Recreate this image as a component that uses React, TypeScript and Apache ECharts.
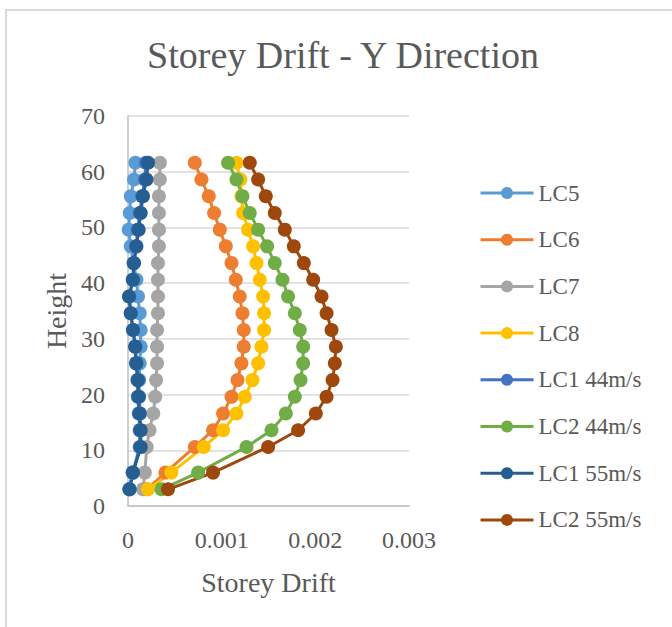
import React, { useEffect, useRef } from "react";
import * as echarts from "echarts";

const heights = [61.6, 58.6, 55.6, 52.6, 49.6, 46.6, 43.6, 40.6, 37.6, 34.6, 31.6, 28.6, 25.6, 22.6, 19.6, 16.6, 13.6, 10.6, 6, 3];

const lc5 = [0.000079, 0.000064, 0.000029, 0.000018, 0.000007, 0.000029, 0.00006, 0.00009, 0.000107, 0.000125, 0.000135, 0.000135, 0.000125, 0.00012, 0.00012, 0.00013, 0.000135, 0.000135, 0.00005, 0.000015];
const lc6 = [0.000713, 0.000784, 0.000862, 0.000919, 0.00098, 0.001044, 0.001105, 0.001151, 0.001193, 0.001222, 0.001236, 0.001236, 0.001211, 0.001169, 0.001105, 0.001015, 0.000908, 0.000713, 0.0004, 0.0002];
const lc7 = [0.00034, 0.00034, 0.00033, 0.00033, 0.00033, 0.00033, 0.00032, 0.00032, 0.00032, 0.00032, 0.00031, 0.00031, 0.00031, 0.0003, 0.00029, 0.00027, 0.00023, 0.0002, 0.00018, 0.00016];
const lc8 = [0.001158, 0.0012, 0.001211, 0.001229, 0.001282, 0.001336, 0.001372, 0.001407, 0.001443, 0.001453, 0.001453, 0.001425, 0.001389, 0.001329, 0.001247, 0.001158, 0.001015, 0.000809, 0.000463, 0.000214];
const lc1_44 = [0.00019, 0.00018, 0.00015, 0.000125, 0.000105, 0.000085, 0.00006, 0.00005, 0.000015, 0.00003, 0.000055, 0.000075, 0.000085, 0.0001, 0.000105, 0.000115, 0.000125, 0.000125, 0.00005, 0.000015];
const lc2_44 = [0.001068, 0.001158, 0.001222, 0.0013, 0.001389, 0.001485, 0.001567, 0.001649, 0.001709, 0.001781, 0.001834, 0.00187, 0.00187, 0.001842, 0.001781, 0.001685, 0.001532, 0.001265, 0.000748, 0.000357];
const lc1_55 = [0.000214, 0.000197, 0.00016, 0.000136, 0.000114, 0.00009, 0.000064, 0.000053, 0.00001, 0.000029, 0.000053, 0.000079, 0.00009, 0.000107, 0.000114, 0.000125, 0.000136, 0.000136, 0.000053, 0.000018];
const lc2_55 = [0.0013, 0.001389, 0.001471, 0.001567, 0.001674, 0.00177, 0.001877, 0.001977, 0.002066, 0.00212, 0.002173, 0.002219, 0.002208, 0.002184, 0.00212, 0.002005, 0.001816, 0.001496, 0.000908, 0.000427];

const seriesNames = ["LC5", "LC6", "LC7", "LC8", "LC1 44m/s", "LC2 44m/s", "LC1 55m/s", "LC2 55m/s"];
const seriesValues = [lc5, lc6, lc7, lc8, lc1_44, lc2_44, lc1_55, lc2_55];
const seriesColors = ["#5B9BD5", "#ED7D31", "#A5A5A5", "#FFC000", "#4472C4", "#70AD47", "#255E91", "#9E480E"];

const title = "Storey Drift - Y Direction";
const xName = "Storey Drift";
const yName = "Height";

const FONT = "'Liberation Serif', serif";
const TXT = "#595959";

export default function App() {
  const ref = useRef<HTMLDivElement>(null);
  useEffect(() => {
    if (!ref.current) return;
    const chart = echarts.init(ref.current, undefined, { renderer: "svg" });
    chart.setOption({
      animation: false,
      backgroundColor: "#ffffff",
      title: {
        text: title,
        left: 343,
        top: 36,
        padding: 0,
        textAlign: "center",
        textStyle: { fontFamily: FONT, fontSize: 38, fontWeight: "normal", color: TXT },
      },
      graphic: [
        {
          type: "rect",
          shape: { x: 6, y: 10, width: 800, height: 800 },
          style: { fill: "none", stroke: "#d9d9d9", lineWidth: 2 },
          silent: true,
        },
      ],
      legend: {
        orient: "vertical",
        left: 479,
        top: 181,
        padding: 0,
        itemWidth: 53,
        itemHeight: 15,
        itemGap: 22.7,
        lineStyle: { width: 3 },
        textStyle: { fontFamily: FONT, fontSize: 23, color: TXT, lineHeight: 24 },
        data: seriesNames,
      },
      grid: { left: 128, right: 263, top: 116, bottom: 121 },
      xAxis: {
        type: "value",
        min: 0,
        max: 0.003,
        interval: 0.001,
        name: xName,
        nameLocation: "middle",
        nameGap: 62,
        nameTextStyle: { fontFamily: FONT, fontSize: 28, color: TXT },
        axisLine: { show: true, lineStyle: { color: "#bfbfbf", width: 1.5 } },
        axisTick: { show: false },
        splitLine: { show: false },
        axisLabel: {
          margin: 22,
          fontFamily: FONT,
          fontSize: 24,
          color: TXT,
          formatter: (v: number) => (v === 0 ? "0" : v.toFixed(3)),
        },
      },
      yAxis: {
        type: "value",
        min: 0,
        max: 70,
        interval: 10,
        name: yName,
        nameLocation: "middle",
        nameGap: 58,
        nameTextStyle: { fontFamily: FONT, fontSize: 28, color: TXT },
        axisLine: { show: true, lineStyle: { color: "#bfbfbf", width: 1.5 } },
        axisTick: { show: false },
        splitLine: { show: true, lineStyle: { color: "#d9d9d9", width: 1.5 } },
        axisLabel: { margin: 23, fontFamily: FONT, fontSize: 24, color: TXT },
      },
      series: seriesNames.map((name, i) => ({
        name,
        type: "line",
        data: seriesValues[i].map((v, j) => [v, heights[j]]),
        symbol: "circle",
        symbolSize: 14,
        showSymbol: true,
        itemStyle: { color: seriesColors[i] },
        lineStyle: { color: seriesColors[i], width: 3 },
        emphasis: { disabled: true },
      })),
    });
    return () => chart.dispose();
  }, []);
  return (
    <div
      ref={ref}
      style={{ position: "absolute", left: 0, top: 0, width: 672, height: 627 }}
    />
  );
}
